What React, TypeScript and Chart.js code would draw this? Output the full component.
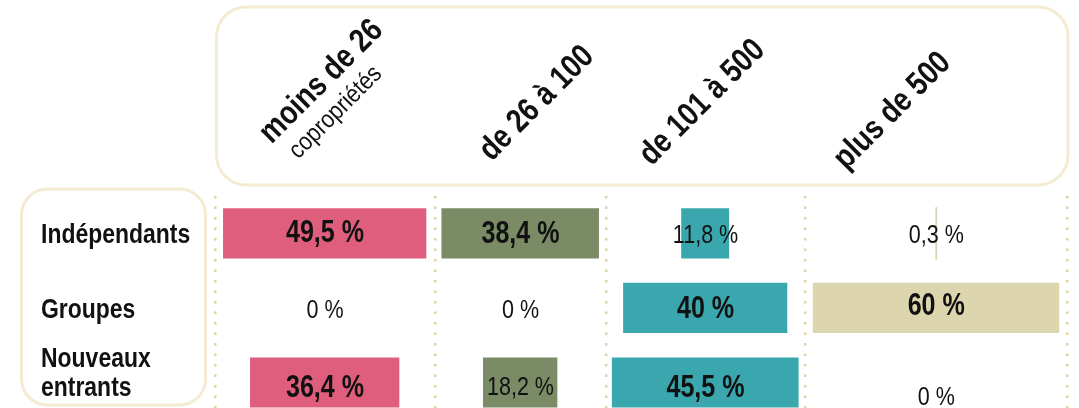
import React, { useEffect, useRef } from 'react';
import { Chart, registerables } from 'chart.js';

Chart.register(...registerables);

// ---- data ----
const ROW_LABELS: string[][] = [['Indépendants'], ['Groupes'], ['Nouveaux', 'entrants']];
const COLUMN_LABELS = ['moins de 26', 'de 26 à 100', 'de 101 à 500', 'plus de 500'];
const COLUMN_SUBLABELS = ['copropriétés', '', '', ''];
const moinsDe26 = [49.5, 0, 36.4];
const de26a100 = [38.4, 0, 18.2];
const de101a500 = [11.8, 40, 45.5];
const plusDe500 = [0.3, 60, 0];
const SERIES = [moinsDe26, de26a100, de101a500, plusDe500];
const COLORS = ['#E05E7D', '#7A8B65', '#3AA7AE', '#DDD5AE'];

// ---- layout (scale units = percentage points) ----
const COL_EDGES = [0, 53.4, 94.9, 143.2, 206.9];
const COL_CENTERS = COL_EDGES.slice(0, -1).map((e, i) => (e + COL_EDGES[i + 1]) / 2);
const LABEL_DY = [
  [0.5, 1.5, 2.5, 3],
  [3, 3, 2, -1],
  [6, 6, 6, 15.5],
];
const ROW_LINE_DY = [[9.7], [9.7], [-15.2, 13.2]];
const HEADER_POS = [
  [321.5, 81.7],
  [537, 103.5],
  [702.4, 102.6],
  [892.6, 111],
];
const SUB_POS = [[335.8, 112.5]];

const FAMILY = '"Liberation Sans", Arial, sans-serif';
const BOX = '#F4EBD2';
const DOTS = '#DED3A4';
const INK = '#111';

const fmt = (v: number) => String(v).replace('.', ',') + ' %';

// draws condensed text (horizontal squeeze of Liberation Sans ≈ Arial Narrow)
function narrowText(
  ctx: CanvasRenderingContext2D,
  text: string,
  x: number,
  y: number,
  font: string,
  squeeze: number,
  align: CanvasTextAlign,
  baseline: CanvasTextBaseline,
  angle = 0
) {
  ctx.save();
  ctx.translate(x, y);
  if (angle) ctx.rotate(angle);
  ctx.scale(squeeze, 1);
  ctx.font = font;
  ctx.fillStyle = INK;
  ctx.textAlign = align;
  ctx.textBaseline = baseline;
  ctx.fillText(text, 0, 0);
  ctx.restore();
}

const decor = {
  id: 'decor',
  beforeDraw(chart: any) {
    const ctx = chart.ctx;
    const a = chart.chartArea;
    ctx.save();
    ctx.strokeStyle = BOX;
    ctx.lineWidth = 3;
    ctx.beginPath();
    ctx.roundRect(a.left + 1.5, 7, 1068 - a.left - 1.5, 178, 30);
    ctx.stroke();
    ctx.beginPath();
    ctx.roundRect(21.5, 189, 184, 216, 26);
    ctx.stroke();
    ctx.restore();
  },
  afterDatasetsDraw(chart: any) {
    const ctx = chart.ctx;
    const xs = chart.scales.x;
    const ys = chart.scales.y;
    SERIES.forEach((vals, j) => {
      vals.forEach((v, i) => {
        const bold = v >= 30;
        const x = xs.getPixelForValue(COL_CENTERS[j]);
        const y = ys.getPixelForValue(i) + LABEL_DY[i][j];
        if (bold) narrowText(ctx, fmt(v), x, y, `700 31px ${FAMILY}`, 0.81, 'center', 'middle');
        else narrowText(ctx, fmt(v), x, y, `400 25px ${FAMILY}`, 0.86, 'center', 'middle');
      });
    });
  },
  afterDraw(chart: any) {
    const ctx = chart.ctx;
    const ys = chart.scales.y;
    ROW_LABELS.forEach((lines, i) => {
      const py = ys.getPixelForValue(i);
      lines.forEach((t, k) => {
        narrowText(ctx, t, 41, py + ROW_LINE_DY[i][k], `700 27px ${FAMILY}`, 0.85, 'left', 'alphabetic');
      });
    });
    COLUMN_LABELS.forEach((t, j) => {
      narrowText(ctx, t, HEADER_POS[j][0], HEADER_POS[j][1], `700 33px ${FAMILY}`, 0.835, 'center', 'middle', -Math.PI / 4);
      if (COLUMN_SUBLABELS[j] && SUB_POS[j]) {
        narrowText(ctx, COLUMN_SUBLABELS[j], SUB_POS[j][0], SUB_POS[j][1], `400 25px ${FAMILY}`, 0.87, 'center', 'middle', -Math.PI / 4);
      }
    });
  },
};

export default function App() {
  const ref = useRef<HTMLCanvasElement>(null);
  useEffect(() => {
    document.body.style.margin = '0';
    const chart = new Chart(ref.current as HTMLCanvasElement, {
      type: 'bar',
      data: {
        datasets: SERIES.map((vals, j) => ({
          label: COLUMN_LABELS[j],
          data: vals.map((v, i) => ({ x: [COL_CENTERS[j] - v / 2, COL_CENTERS[j] + v / 2], y: i })),
          backgroundColor: COLORS[j],
          borderColor: 'rgba(255,255,255,0.35)',
          borderWidth: (c: any) => (vals[c.dataIndex] > 1 ? 1 : 0),
          inflateAmount: (c: any) => (vals[c.dataIndex] > 0 ? 'auto' : 0),
          barThickness: 51.5,
          grouped: false,
        })) as any,
      },
      options: {
        indexAxis: 'y',
        animation: false,
        responsive: false,
        layout: { padding: { left: 215, right: 11.5, top: 196, bottom: 0 } },
        plugins: { legend: { display: false }, tooltip: { enabled: false } },
        scales: {
          x: {
            type: 'linear',
            min: COL_EDGES[0],
            max: COL_EDGES[COL_EDGES.length - 1],
            offset: false,
            afterBuildTicks: (s: any) => {
              s.ticks = COL_EDGES.map((value) => ({ value }));
            },
            ticks: { display: false },
            grid: { color: DOTS, lineWidth: 2.5, drawTicks: false, offset: false },
            border: { display: false, dash: [2.5, 8] },
          },
          y: {
            type: 'linear',
            display: false,
            reverse: true,
            offset: false,
            min: -0.5,
            max: 2.342,
          },
        },
      } as any,
      plugins: [decor],
    });
    return () => chart.destroy();
  }, []);
  return (
    <div style={{ position: 'absolute', left: 0, top: 0, width: 1079, height: 408, background: '#fff' }}>
      <canvas ref={ref} width={1079} height={408} style={{ display: 'block' }} />
    </div>
  );
}
